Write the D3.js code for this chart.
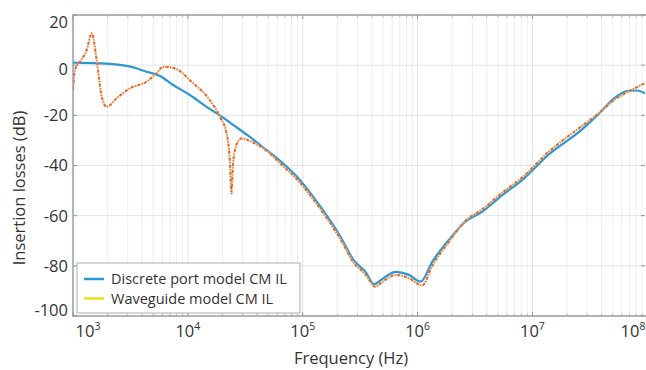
<!DOCTYPE html>
<html>
<head>
<meta charset="utf-8">
<script src="https://cdn.jsdelivr.net/npm/d3@7/dist/d3.min.js"></script>
<style>
  html, body { margin: 0; padding: 0; background: #fff; }
  svg { display: block; font-family: "Open Sans", "Noto Sans", sans-serif; }
</style>
</head>
<body>
<svg id="chart" width="646" height="370"></svg>
<script>
// ---- data (log10 of frequency in Hz, insertion loss in dB) ----
const discreteLogF = [3.0, 3.235, 3.5, 3.64, 3.757, 3.872, 4.017, 4.163, 4.278, 4.394, 4.51, 4.684, 4.8, 4.95, 5.1, 5.217, 5.33, 5.44, 5.548, 5.62, 5.7, 5.809, 5.92, 6.026, 6.128, 6.272, 6.417, 6.563, 6.737, 6.91, 7.142, 7.432, 7.577, 7.722, 7.837, 7.91, 7.98];
const discreteDB   = [1.0, 0.7, -0.6, -2.6, -4.3, -7.9, -11.9, -16.6, -20.0, -23.8, -27.6, -33.8, -38.0, -44.5, -53.0, -60.5, -68.5, -77.5, -82.5, -87.3, -85.0, -82.4, -83.5, -86.3, -78.4, -69.7, -62.4, -58.4, -51.8, -45.8, -35.6, -25.6, -19.4, -12.8, -10.2, -10.1, -11.2];

const waveguideLogF = [3.0, 3.017, 3.061, 3.119, 3.163, 3.206, 3.25, 3.293, 3.38, 3.496, 3.641, 3.728, 3.785, 3.887, 4.046, 4.191, 4.278, 4.337, 4.365, 4.38, 4.394, 4.423, 4.467, 4.539, 4.626, 4.7, 4.8, 4.95, 5.1, 5.217, 5.33, 5.44, 5.548, 5.63, 5.7, 5.809, 5.92, 6.04, 6.128, 6.272, 6.417, 6.563, 6.737, 6.91, 7.142, 7.432, 7.577, 7.722, 7.837, 7.98];
const waveguideDB   = [-9.9, -1.9, 1.4, 6.0, 12.7, 2.1, -12.6, -16.6, -13.2, -9.2, -6.6, -3.2, -0.6, -1.3, -7.2, -13.9, -20.5, -27.2, -37.8, -51.1, -39.1, -31.8, -29.2, -30.2, -32.3, -34.6, -39.0, -45.5, -54.0, -61.5, -69.5, -78.5, -83.5, -88.3, -86.2, -83.6, -84.8, -87.8, -80.0, -70.5, -62.0, -57.5, -50.8, -44.8, -34.5, -24.2, -19.2, -13.5, -10.5, -7.2];

const xTickExps = [3, 4, 5, 6, 7, 8];
const yTicks = [20, 0, -20, -40, -60, -80, -100];
const legendLabels = ["Discrete port model CM IL", "Waveguide model CM IL"];

// ---- layout ----
const svg = d3.select("#chart");
const L = 73, R = 645, T = 15, B = 316;
const x = d3.scaleLog().domain([1e3, Math.pow(10, 7.98)]).range([L, R]);
const y = d3.scaleLinear().domain([-100, 20]).range([B, T]);

const axisColor = "#8d96a0";
const textColor = "#333";

// minor vertical grid
const minors = [];
for (let e = 3; e <= 7; e++) for (let m = 2; m <= 9; m++) {
  const v = m * Math.pow(10, e);
  if (v <= x.domain()[1]) minors.push(v);
}
svg.append("g").selectAll("line").data(minors).join("line")
  .attr("x1", d => x(d)).attr("x2", d => x(d))
  .attr("y1", T).attr("y2", B)
  .attr("stroke", "#efefef").attr("stroke-width", 1);

// major grid
svg.append("g").selectAll("line").data(xTickExps.filter(e => Math.pow(10, e) <= x.domain()[1])).join("line")
  .attr("x1", d => x(Math.pow(10, d))).attr("x2", d => x(Math.pow(10, d)))
  .attr("y1", T).attr("y2", B)
  .attr("stroke", "#e4e4e4").attr("stroke-width", 1);
svg.append("g").selectAll("line").data(yTicks).join("line")
  .attr("x1", L).attr("x2", R)
  .attr("y1", d => y(d)).attr("y2", d => y(d))
  .attr("stroke", "#e4e4e4").attr("stroke-width", 1);

// clip
svg.append("clipPath").attr("id", "clip").append("rect")
  .attr("x", L).attr("y", T).attr("width", R - L).attr("height", B - T);

const line = d3.line().x(d => x(Math.pow(10, d[0]))).y(d => y(d[1])).curve(d3.curveMonotoneX);
const disc = discreteLogF.map((f, i) => [f, discreteDB[i]]);
const wave = waveguideLogF.map((f, i) => [f, waveguideDB[i]]);

const plot = svg.append("g").attr("clip-path", "url(#clip)");
plot.append("path").datum(disc).attr("d", line)
  .attr("fill", "none").attr("stroke", "#2b97d3").attr("stroke-width", 2.2);
plot.append("path").datum(wave).attr("d", line)
  .attr("fill", "none").attr("stroke", "#f3c98a").attr("stroke-width", 2).attr("opacity", 0.6);
plot.append("path").datum(wave).attr("d", line)
  .attr("fill", "none").attr("stroke", "#df6a35").attr("stroke-width", 2)
  .attr("stroke-dasharray", "3,1.5,1,1.5");

// frame
svg.append("rect").attr("x", L).attr("y", T).attr("width", R - L + 3).attr("height", B - T)
  .attr("fill", "none").attr("stroke", axisColor).attr("stroke-width", 1.3);

// ticks (inward)
const tk = svg.append("g").attr("stroke", axisColor).attr("stroke-width", 1);
xTickExps.filter(e => Math.pow(10, e) <= x.domain()[1]).forEach(e => {
  const px = x(Math.pow(10, e));
  tk.append("line").attr("x1", px).attr("x2", px).attr("y1", B).attr("y2", B - 4);
  tk.append("line").attr("x1", px).attr("x2", px).attr("y1", T).attr("y2", T + 4);
});
minors.forEach(v => {
  const px = x(v);
  tk.append("line").attr("x1", px).attr("x2", px).attr("y1", B).attr("y2", B - 2.5).attr("stroke-opacity", 0.6);
  tk.append("line").attr("x1", px).attr("x2", px).attr("y1", T).attr("y2", T + 2.5).attr("stroke-opacity", 0.6);
});
yTicks.forEach(v => {
  tk.append("line").attr("x1", L).attr("x2", L + 4).attr("y1", y(v)).attr("y2", y(v));
  tk.append("line").attr("x1", R).attr("x2", R - 4).attr("y1", y(v)).attr("y2", y(v));
});

// y tick labels
svg.append("g").selectAll("text").data(yTicks).join("text")
  .attr("x", 68)
  .attr("y", d => Math.min(Math.max(y(d), T + 7), B - 6) + (d === 0 ? 4 : 0))
  .attr("dy", "0.36em")
  .attr("text-anchor", "end")
  .attr("font-size", 16.5).attr("fill", textColor)
  .text(d => d);

// x tick labels (10^n)
const xl = svg.append("g");
xTickExps.forEach(e => {
  let cx = x(Math.pow(10, e));
  cx = Math.min(Math.max(cx, L + 15), R - 12);
  const t = xl.append("text").attr("x", cx).attr("y", 337)
    .attr("text-anchor", "middle").attr("font-size", 16.5).attr("fill", textColor);
  t.append("tspan").text("10");
  t.append("tspan").attr("dy", -7).attr("font-size", 10.5).text(e);
});

// axis titles
svg.append("text").attr("x", 351).attr("y", 364).attr("text-anchor", "middle")
  .attr("font-size", 16.5).attr("fill", textColor).text("Frequency (Hz)");
svg.append("text").attr("transform", "translate(25,188) rotate(-90)").attr("text-anchor", "middle")
  .attr("font-size", 16.5).attr("fill", textColor).text("Insertion losses (dB)");

// legend
const lg = svg.append("g");
lg.append("rect").attr("x", 77).attr("y", 263).attr("width", 223).attr("height", 50)
  .attr("fill", "#fff").attr("stroke", "#a9afb5").attr("stroke-width", 1);
const legColors = ["#2b97d3", "#f5dc18"];
legendLabels.forEach((lab, i) => {
  const ly = 279 + i * 19.5;
  lg.append("line").attr("x1", 84).attr("x2", 104).attr("y1", ly).attr("y2", ly)
    .attr("stroke", legColors[i]).attr("stroke-width", 2.5);
  lg.append("text").attr("x", 111).attr("y", ly).attr("dy", "0.35em")
    .attr("font-size", 14.5).attr("fill", textColor).text(lab);
});
</script>
</body>
</html>
